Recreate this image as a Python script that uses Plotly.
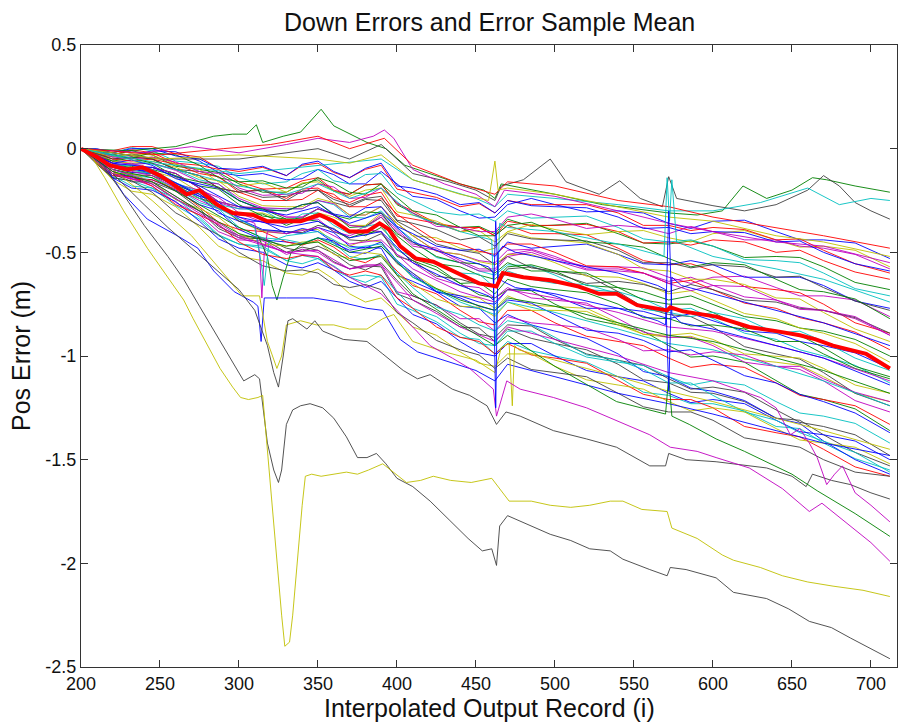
import plotly.graph_objects as go

# ---------------- data ----------------
GRID_X = [200, 210, 220, 232, 245, 260, 275, 287, 300, 315, 330, 340, 350, 360, 370, 380, 390, 400, 410, 425,
          440, 452, 462, 470, 485, 500, 520, 540, 556, 572, 586, 600, 620, 640, 655, 670, 690, 712]

BUNDLE = [
    [0, 0.0, -0.02, -0.035, -0.01, -0.015, -0.06, -0.115, -0.13, -0.12, -0.15, -0.145, -0.10, -0.125, -0.17, -0.17, -0.11, -0.17, -0.23, -0.245, -0.30, -0.335, -0.33, -0.27, -0.24, -0.27, -0.305, -0.30, -0.31, -0.36, -0.385, -0.35, -0.345, -0.40, -0.44, -0.44, -0.455, -0.53],
    [0, -0.025, -0.03, -0.01, -0.03, -0.085, -0.10, -0.115, -0.17, -0.21, -0.21, -0.17, -0.15, -0.205, -0.22, -0.175, -0.17, -0.27, -0.31, -0.365, -0.38, -0.375, -0.41, -0.34, -0.375, -0.37, -0.36, -0.41, -0.455, -0.46, -0.445, -0.47, -0.525, -0.52, -0.525, -0.57, -0.645, -0.68],
    [0, -0.025, -0.05, -0.04, -0.05, -0.10, -0.13, -0.19, -0.21, -0.195, -0.24, -0.195, -0.19, -0.235, -0.26, -0.225, -0.21, -0.325, -0.34, -0.36, -0.40, -0.38, -0.42, -0.35, -0.37, -0.37, -0.365, -0.40, -0.455, -0.45, -0.465, -0.44, -0.45, -0.50, -0.49, -0.54, -0.595, -0.63],
    [0, -0.025, -0.06, -0.075, -0.07, -0.10, -0.15, -0.17, -0.25, -0.29, -0.29, -0.29, -0.25, -0.27, -0.33, -0.335, -0.30, -0.38, -0.44, -0.525, -0.55, -0.59, -0.61, -0.56, -0.565, -0.61, -0.68, -0.69, -0.725, -0.78, -0.77, -0.82, -0.89, -0.92, -0.97, -1.00, -1.045, -1.13],
    [0, -0.035, -0.08, -0.105, -0.09, -0.12, -0.19, -0.26, -0.29, -0.29, -0.33, -0.33, -0.29, -0.32, -0.37, -0.375, -0.32, -0.39, -0.46, -0.48, -0.54, -0.58, -0.58, -0.51, -0.49, -0.53, -0.57, -0.57, -0.575, -0.62, -0.65, -0.62, -0.615, -0.67, -0.71, -0.71, -0.73, -0.81],
    [0, -0.05, -0.09, -0.09, -0.13, -0.205, -0.24, -0.275, -0.35, -0.40, -0.41, -0.39, -0.39, -0.45, -0.47, -0.44, -0.45, -0.555, -0.60, -0.675, -0.71, -0.72, -0.77, -0.71, -0.755, -0.76, -0.77, -0.84, -0.895, -0.91, -0.905, -0.94, -1.015, -1.03, -1.045, -1.10, -1.18, -1.22],
    [0, -0.06, -0.12, -0.135, -0.17, -0.245, -0.30, -0.385, -0.43, -0.435, -0.50, -0.475, -0.49, -0.545, -0.58, -0.565, -0.57, -0.70, -0.73, -0.785, -0.86, -0.865, -0.93, -0.87, -0.915, -0.94, -0.97, -1.04, -1.115, -1.13, -1.175, -1.18, -1.22, -1.30, -1.31, -1.38, -1.465, -1.53],
    [0, -0.05, -0.11, -0.14, -0.15, -0.20, -0.27, -0.30, -0.39, -0.44, -0.45, -0.46, -0.43, -0.445, -0.50, -0.505, -0.47, -0.55, -0.61, -0.69, -0.71, -0.74, -0.75, -0.68, -0.675, -0.71, -0.77, -0.77, -0.785, -0.82, -0.795, -0.83, -0.88, -0.89, -0.93, -0.95, -0.985, -1.06],
    [0, -0.03, -0.07, -0.10, -0.09, -0.12, -0.19, -0.255, -0.28, -0.29, -0.34, -0.345, -0.31, -0.345, -0.40, -0.42, -0.38, -0.46, -0.53, -0.57, -0.65, -0.705, -0.72, -0.68, -0.685, -0.75, -0.82, -0.85, -0.88, -0.95, -1.005, -1.00, -1.03, -1.12, -1.185, -1.21, -1.255, -1.36],
    [0, -0.02, -0.03, -0.005, -0.02, -0.07, -0.08, -0.10, -0.16, -0.195, -0.19, -0.155, -0.14, -0.20, -0.22, -0.175, -0.17, -0.265, -0.30, -0.36, -0.38, -0.38, -0.42, -0.37, -0.41, -0.41, -0.415, -0.48, -0.54, -0.56, -0.555, -0.59, -0.665, -0.68, -0.695, -0.75, -0.84, -0.89],
    [0, -0.07, -0.14, -0.155, -0.19, -0.275, -0.34, -0.42, -0.46, -0.47, -0.54, -0.515, -0.53, -0.585, -0.62, -0.61, -0.62, -0.75, -0.78, -0.835, -0.91, -0.92, -0.99, -0.93, -0.975, -1.00, -1.03, -1.10, -1.175, -1.19, -1.23, -1.23, -1.265, -1.34, -1.35, -1.42, -1.495, -1.55],
    [0, -0.025, -0.06, -0.075, -0.07, -0.105, -0.16, -0.17, -0.24, -0.285, -0.29, -0.29, -0.25, -0.265, -0.32, -0.32, -0.28, -0.36, -0.42, -0.495, -0.51, -0.54, -0.55, -0.49, -0.485, -0.52, -0.58, -0.58, -0.60, -0.64, -0.62, -0.66, -0.715, -0.73, -0.765, -0.78, -0.82, -0.90],
    [0, -0.035, -0.08, -0.115, -0.11, -0.14, -0.21, -0.28, -0.31, -0.31, -0.35, -0.35, -0.31, -0.33, -0.37, -0.37, -0.31, -0.36, -0.42, -0.43, -0.48, -0.50, -0.48, -0.40, -0.365, -0.39, -0.415, -0.40, -0.395, -0.43, -0.45, -0.41, -0.395, -0.44, -0.475, -0.47, -0.49, -0.57],
    [0, -0.025, -0.04, -0.025, -0.05, -0.10, -0.11, -0.135, -0.20, -0.235, -0.23, -0.205, -0.20, -0.26, -0.28, -0.245, -0.25, -0.35, -0.39, -0.46, -0.49, -0.505, -0.56, -0.52, -0.575, -0.59, -0.61, -0.69, -0.765, -0.80, -0.81, -0.86, -0.955, -0.99, -1.015, -1.08, -1.18, -1.24],
    [0, -0.045, -0.09, -0.095, -0.12, -0.185, -0.23, -0.31, -0.35, -0.35, -0.41, -0.385, -0.40, -0.455, -0.49, -0.475, -0.48, -0.61, -0.64, -0.69, -0.76, -0.77, -0.84, -0.80, -0.85, -0.88, -0.915, -0.99, -1.075, -1.10, -1.155, -1.17, -1.215, -1.30, -1.325, -1.41, -1.50, -1.57],
    [0, -0.03, -0.07, -0.095, -0.10, -0.13, -0.18, -0.195, -0.27, -0.325, -0.34, -0.335, -0.29, -0.315, -0.38, -0.375, -0.33, -0.42, -0.48, -0.555, -0.57, -0.61, -0.63, -0.57, -0.56, -0.59, -0.66, -0.67, -0.69, -0.73, -0.71, -0.75, -0.81, -0.83, -0.865, -0.88, -0.92, -1.00],
    [0, -0.05, -0.11, -0.15, -0.15, -0.195, -0.28, -0.355, -0.39, -0.40, -0.45, -0.465, -0.44, -0.475, -0.53, -0.55, -0.51, -0.59, -0.66, -0.70, -0.78, -0.835, -0.85, -0.78, -0.78, -0.84, -0.905, -0.93, -0.95, -1.01, -1.055, -1.04, -1.055, -1.13, -1.19, -1.21, -1.24, -1.33],
    [0, -0.015, -0.02, 0.005, -0.01, -0.06, -0.07, -0.085, -0.14, -0.17, -0.16, -0.12, -0.10, -0.155, -0.17, -0.125, -0.12, -0.215, -0.25, -0.305, -0.32, -0.315, -0.35, -0.30, -0.335, -0.33, -0.325, -0.38, -0.435, -0.45, -0.44, -0.47, -0.535, -0.54, -0.55, -0.60, -0.675, -0.71],
    [0, -0.065, -0.13, -0.145, -0.18, -0.26, -0.32, -0.40, -0.44, -0.445, -0.51, -0.485, -0.50, -0.55, -0.58, -0.56, -0.56, -0.69, -0.71, -0.755, -0.82, -0.82, -0.88, -0.81, -0.84, -0.85, -0.865, -0.92, -0.975, -0.97, -0.995, -0.98, -0.995, -1.05, -1.05, -1.11, -1.175, -1.22],
    [0, -0.025, -0.06, -0.07, -0.06, -0.09, -0.14, -0.155, -0.23, -0.275, -0.28, -0.28, -0.24, -0.26, -0.32, -0.32, -0.28, -0.36, -0.42, -0.495, -0.51, -0.545, -0.56, -0.51, -0.51, -0.55, -0.615, -0.62, -0.65, -0.70, -0.685, -0.73, -0.795, -0.82, -0.865, -0.89, -0.94, -1.03],
    [0, -0.055, -0.12, -0.16, -0.16, -0.205, -0.29, -0.375, -0.42, -0.43, -0.48, -0.495, -0.47, -0.505, -0.56, -0.585, -0.55, -0.635, -0.71, -0.755, -0.84, -0.895, -0.91, -0.85, -0.855, -0.92, -0.99, -1.02, -1.045, -1.11, -1.16, -1.15, -1.175, -1.26, -1.32, -1.34, -1.38, -1.48],
    [0, -0.04, -0.07, -0.055, -0.08, -0.145, -0.17, -0.19, -0.25, -0.295, -0.30, -0.27, -0.26, -0.315, -0.33, -0.285, -0.28, -0.375, -0.41, -0.47, -0.49, -0.485, -0.52, -0.45, -0.48, -0.47, -0.46, -0.51, -0.555, -0.56, -0.54, -0.56, -0.62, -0.62, -0.62, -0.66, -0.735, -0.77],
    [0, -0.04, -0.08, -0.085, -0.11, -0.175, -0.22, -0.29, -0.32, -0.315, -0.37, -0.34, -0.35, -0.40, -0.43, -0.405, -0.40, -0.52, -0.54, -0.585, -0.65, -0.645, -0.70, -0.63, -0.665, -0.68, -0.695, -0.75, -0.815, -0.82, -0.855, -0.85, -0.87, -0.93, -0.93, -0.99, -1.06, -1.11],
    [0, -0.02, -0.05, -0.06, -0.05, -0.075, -0.12, -0.135, -0.21, -0.25, -0.25, -0.245, -0.20, -0.22, -0.28, -0.28, -0.24, -0.315, -0.37, -0.445, -0.46, -0.495, -0.51, -0.46, -0.46, -0.50, -0.565, -0.57, -0.60, -0.65, -0.635, -0.68, -0.745, -0.77, -0.815, -0.84, -0.885, -0.97],
    [0, -0.06, -0.13, -0.18, -0.19, -0.24, -0.33, -0.415, -0.46, -0.48, -0.54, -0.555, -0.53, -0.565, -0.62, -0.645, -0.61, -0.69, -0.77, -0.81, -0.89, -0.94, -0.95, -0.88, -0.88, -0.94, -1.005, -1.03, -1.045, -1.10, -1.14, -1.12, -1.14, -1.22, -1.275, -1.29, -1.325, -1.42],
    [0, -0.045, -0.08, -0.07, -0.10, -0.17, -0.20, -0.235, -0.31, -0.355, -0.36, -0.34, -0.34, -0.40, -0.42, -0.39, -0.40, -0.51, -0.55, -0.625, -0.66, -0.67, -0.72, -0.67, -0.72, -0.73, -0.745, -0.82, -0.885, -0.91, -0.91, -0.95, -1.03, -1.05, -1.065, -1.12, -1.215, -1.27],
    [0, -0.02, -0.04, -0.025, -0.03, -0.075, -0.10, -0.16, -0.18, -0.165, -0.21, -0.165, -0.16, -0.205, -0.23, -0.20, -0.19, -0.305, -0.32, -0.35, -0.40, -0.395, -0.45, -0.40, -0.43, -0.44, -0.455, -0.51, -0.58, -0.59, -0.63, -0.63, -0.655, -0.72, -0.725, -0.79, -0.87, -0.93],
    [0, -0.045, -0.10, -0.125, -0.13, -0.175, -0.24, -0.265, -0.35, -0.395, -0.40, -0.405, -0.37, -0.385, -0.44, -0.445, -0.41, -0.485, -0.54, -0.615, -0.63, -0.655, -0.66, -0.58, -0.57, -0.60, -0.65, -0.64, -0.655, -0.69, -0.655, -0.68, -0.73, -0.74, -0.77, -0.78, -0.815, -0.89],
    [0, -0.065, -0.14, -0.19, -0.20, -0.255, -0.35, -0.435, -0.48, -0.50, -0.56, -0.575, -0.55, -0.585, -0.64, -0.67, -0.64, -0.72, -0.80, -0.845, -0.93, -0.985, -1.00, -0.94, -0.94, -1.00, -1.07, -1.10, -1.12, -1.18, -1.225, -1.21, -1.23, -1.31, -1.365, -1.38, -1.41, -1.50],
    [0, -0.035, -0.06, -0.045, -0.07, -0.135, -0.16, -0.185, -0.25, -0.295, -0.30, -0.27, -0.26, -0.32, -0.34, -0.305, -0.31, -0.41, -0.45, -0.52, -0.55, -0.555, -0.60, -0.55, -0.59, -0.59, -0.60, -0.67, -0.73, -0.75, -0.75, -0.79, -0.865, -0.88, -0.90, -0.96, -1.05, -1.10],
    [0, -0.005, -0.01, 0.01, 0.01, -0.025, -0.04, -0.095, -0.11, -0.09, -0.13, -0.08, -0.07, -0.115, -0.14, -0.10, -0.08, -0.195, -0.21, -0.235, -0.28, -0.265, -0.31, -0.25, -0.27, -0.27, -0.27, -0.31, -0.37, -0.37, -0.395, -0.38, -0.39, -0.44, -0.435, -0.49, -0.555, -0.60],
    [0, -0.045, -0.10, -0.13, -0.14, -0.19, -0.26, -0.29, -0.38, -0.43, -0.44, -0.455, -0.43, -0.455, -0.52, -0.535, -0.51, -0.60, -0.67, -0.765, -0.80, -0.85, -0.88, -0.83, -0.85, -0.91, -0.995, -1.02, -1.065, -1.13, -1.13, -1.19, -1.27, -1.31, -1.37, -1.41, -1.465, -1.56],
    [0, -0.03, -0.07, -0.10, -0.09, -0.12, -0.19, -0.255, -0.28, -0.285, -0.33, -0.33, -0.29, -0.32, -0.37, -0.38, -0.33, -0.40, -0.47, -0.49, -0.55, -0.59, -0.59, -0.52, -0.50, -0.54, -0.585, -0.59, -0.60, -0.65, -0.685, -0.66, -0.665, -0.73, -0.775, -0.78, -0.81, -0.90],
    [0, -0.065, -0.12, -0.12, -0.16, -0.245, -0.29, -0.33, -0.41, -0.46, -0.47, -0.45, -0.45, -0.51, -0.53, -0.50, -0.51, -0.61, -0.65, -0.725, -0.76, -0.765, -0.81, -0.74, -0.78, -0.78, -0.785, -0.85, -0.895, -0.90, -0.89, -0.92, -0.99, -1.00, -1.01, -1.06, -1.14, -1.18],
    [0, -0.025, -0.05, -0.04, -0.05, -0.10, -0.13, -0.19, -0.21, -0.20, -0.25, -0.205, -0.20, -0.245, -0.27, -0.24, -0.23, -0.345, -0.36, -0.39, -0.44, -0.425, -0.47, -0.41, -0.435, -0.44, -0.445, -0.49, -0.55, -0.55, -0.575, -0.56, -0.57, -0.62, -0.615, -0.67, -0.735, -0.78],
    [0, -0.035, -0.09, -0.115, -0.12, -0.165, -0.23, -0.255, -0.34, -0.39, -0.40, -0.41, -0.38, -0.405, -0.47, -0.48, -0.45, -0.54, -0.60, -0.69, -0.72, -0.76, -0.78, -0.73, -0.745, -0.80, -0.875, -0.89, -0.925, -0.98, -0.97, -1.02, -1.095, -1.13, -1.185, -1.22, -1.275, -1.37],
    [0, -0.01, -0.03, -0.045, -0.02, -0.03, -0.08, -0.14, -0.16, -0.155, -0.19, -0.185, -0.14, -0.165, -0.21, -0.22, -0.17, -0.235, -0.30, -0.32, -0.38, -0.42, -0.42, -0.37, -0.355, -0.40, -0.45, -0.46, -0.475, -0.53, -0.57, -0.55, -0.56, -0.63, -0.68, -0.69, -0.725, -0.82],
    [0, -0.07, -0.13, -0.135, -0.18, -0.27, -0.32, -0.365, -0.45, -0.51, -0.53, -0.515, -0.52, -0.585, -0.61, -0.59, -0.61, -0.72, -0.77, -0.86, -0.91, -0.93, -0.99, -0.94, -0.995, -1.01, -1.035, -1.12, -1.185, -1.21, -1.21, -1.25, -1.34, -1.37, -1.39, -1.45, -1.535, -1.58],
    [0, -0.04, -0.08, -0.08, -0.10, -0.165, -0.21, -0.27, -0.29, -0.295, -0.36, -0.315, -0.31, -0.37, -0.41, -0.375, -0.36, -0.49, -0.52, -0.55, -0.60, -0.605, -0.67, -0.59, -0.63, -0.65, -0.655, -0.70, -0.775, -0.79, -0.81, -0.79, -0.82, -0.89, -0.88, -0.93, -1.01, -1.07],
    [0, -0.01, -0.04, -0.05, -0.04, -0.065, -0.11, -0.12, -0.19, -0.225, -0.22, -0.215, -0.17, -0.185, -0.24, -0.235, -0.19, -0.26, -0.31, -0.375, -0.38, -0.40, -0.40, -0.33, -0.315, -0.34, -0.385, -0.37, -0.38, -0.41, -0.375, -0.40, -0.44, -0.44, -0.47, -0.48, -0.51, -0.58],
    [0, -0.07, -0.15, -0.205, -0.22, -0.28, -0.38, -0.47, -0.52, -0.54, -0.60, -0.61, -0.58, -0.63, -0.70, -0.74, -0.72, -0.79, -0.86, -0.90, -0.98, -1.035, -1.05, -0.99, -0.99, -1.05, -1.115, -1.14, -1.16, -1.22, -1.265, -1.25, -1.27, -1.35, -1.405, -1.42, -1.44, -1.52],
    [0, -0.075, -0.14, -0.155, -0.21, -0.31, -0.37, -0.415, -0.50, -0.565, -0.59, -0.585, -0.60, -0.655, -0.67, -0.655, -0.68, -0.79, -0.84, -0.925, -0.97, -0.995, -1.06, -1.01, -1.065, -1.08, -1.10, -1.18, -1.245, -1.27, -1.27, -1.31, -1.395, -1.42, -1.44, -1.50, -1.56, -1.58],
    [0, -0.01, -0.02, 0.0, 0.00, -0.035, -0.05, -0.095, -0.10, -0.085, -0.13, -0.075, -0.06, -0.11, -0.14, -0.095, -0.07, -0.18, -0.19, -0.22, -0.27, -0.26, -0.31, -0.25, -0.275, -0.28, -0.285, -0.33, -0.385, -0.38, -0.41, -0.40, -0.405, -0.45, -0.445, -0.50, -0.555, -0.59],
]

# individual runs with distinctive features
TOP_GREEN_X = [200, 230, 260, 284, 296, 305, 311, 315, 328, 339, 352, 360, 381, 393, 405, 420, 440, 455, 462, 466, 480, 500, 530, 560, 572, 590, 606, 619, 634, 650, 663, 672, 690, 712]
TOP_GREEN_Y = [0, -0.01, 0.01, 0.06, 0.07, 0.07, 0.115, 0.03, 0.06, 0.08, 0.19, 0.11, 0.03, 0.0, -0.08, -0.12, -0.17, -0.20, -0.24, -0.17, -0.19, -0.22, -0.27, -0.30, -0.31, -0.32, -0.30, -0.18, -0.24, -0.20, -0.14, -0.15, -0.18, -0.21]

TOP_GRAY_X = [200, 250, 300, 350, 370, 390, 410, 433, 450, 462, 466, 480, 497, 507, 528, 541, 554, 568, 572, 577, 600, 620, 640, 660, 670, 680, 690, 700, 712]
TOP_GRAY_Y = [0, -0.05, -0.05, 0.0, -0.05, 0.02, -0.12, -0.16, -0.20, -0.25, -0.18, -0.15, -0.05, -0.16, -0.22, -0.155, -0.24, -0.28, -0.135, -0.24, -0.275, -0.30, -0.27, -0.20, -0.13, -0.18, -0.26, -0.30, -0.34]

TOP_CYAN_X = [200, 250, 300, 350, 390, 410, 450, 462, 470, 500, 540, 572, 600, 630, 660, 680, 700, 712]
TOP_CYAN_Y = [0, -0.07, -0.12, -0.08, -0.05, -0.15, -0.24, -0.28, -0.22, -0.24, -0.27, -0.30, -0.30, -0.26, -0.19, -0.27, -0.24, -0.25]

TOP_MAG_X = [200, 240, 270, 300, 330, 350, 370, 385, 392, 398, 410, 430, 450, 462, 468, 500, 540, 572, 600, 640, 670, 712]
TOP_MAG_Y = [0, -0.02, 0.01, -0.02, 0.02, 0.05, 0.03, 0.06, 0.09, 0.05, -0.10, -0.17, -0.22, -0.28, -0.20, -0.23, -0.30, -0.36, -0.40, -0.45, -0.47, -0.55]

TOP_RED_X = [200, 250, 290, 320, 350, 370, 392, 410, 440, 462, 470, 500, 540, 572, 600, 640, 670, 712]
TOP_RED_Y = [0, -0.03, 0.0, 0.02, 0.06, 0.0, 0.05, -0.08, -0.17, -0.22, -0.16, -0.18, -0.25, -0.28, -0.33, -0.38, -0.42, -0.48]

TOP_YEL_X = [200, 250, 300, 350, 370, 390, 410, 440, 458, 462, 464, 470, 500, 540, 572, 600, 640, 670, 712]
TOP_YEL_Y = [0, -0.05, -0.03, -0.05, -0.07, -0.03, -0.15, -0.22, -0.25, -0.06, -0.20, -0.19, -0.22, -0.28, -0.33, -0.35, -0.42, -0.45, -0.52]

SPK_A_X = [200, 220, 245, 275, 300, 330, 350, 370, 390, 410, 440, 458, 461, 462.5, 464, 467, 475, 500, 540, 565, 570, 572, 574, 580, 600, 640, 670, 712]
SPK_A_Y = [0, -0.07, -0.09, -0.18, -0.28, -0.32, -0.28, -0.36, -0.31, -0.45, -0.53, -0.57, -0.60, -1.25, -0.50, -0.47, -0.50, -0.54, -0.60, -0.66, -0.68, -1.17, -0.62, -0.66, -0.70, -0.78, -0.84, -0.95]

SPK_B_X = [200, 220, 245, 275, 300, 330, 350, 370, 390, 410, 440, 458, 461, 462.5, 464, 467, 475, 500, 540, 565, 570, 572, 574, 580, 600, 640, 670, 712]
SPK_B_Y = [0, -0.09, -0.11, -0.22, -0.33, -0.38, -0.35, -0.43, -0.40, -0.55, -0.66, -0.71, -0.73, -0.35, -0.62, -0.64, -0.67, -0.70, -0.77, -0.83, -0.85, -0.30, -0.80, -0.84, -0.87, -0.95, -1.01, -1.14]

SPK_C_X = [200, 230, 260, 300, 330, 350, 370, 390, 410, 440, 460, 462.5, 465, 470, 500, 540, 560, 569, 571, 572.5, 574, 577, 600, 640, 670, 712]
SPK_C_Y = [0, -0.05, -0.10, -0.18, -0.22, -0.17, -0.24, -0.19, -0.32, -0.40, -0.44, -0.95, -0.36, -0.38, -0.40, -0.46, -0.50, -0.52, -0.14, -0.35, -0.15, -0.45, -0.52, -0.58, -0.63, -0.74]

SPK_D_X = [200, 220, 245, 275, 300, 310, 313, 314.5, 316, 318, 330, 350, 370, 390, 410, 440, 462, 470, 500, 540, 572, 600, 640, 670, 712]
SPK_D_Y = [0, -0.09, -0.13, -0.25, -0.33, -0.36, -0.50, -0.72, -0.50, -0.40, -0.41, -0.38, -0.46, -0.44, -0.58, -0.69, -0.74, -0.68, -0.72, -0.79, -0.86, -0.88, -0.95, -1.01, -1.12]

SPK_E_X = [200, 220, 245, 275, 300, 312, 318, 321, 324, 328, 333, 340, 350, 370, 390, 410, 440, 462, 470, 500, 540, 572, 600, 640, 670, 712]
SPK_E_Y = [0, -0.10, -0.14, -0.27, -0.38, -0.42, -0.52, -0.66, -0.73, -0.62, -0.50, -0.46, -0.43, -0.50, -0.47, -0.62, -0.73, -0.78, -0.72, -0.76, -0.84, -0.90, -0.93, -1.01, -1.07, -1.18]

SPK_F_X = [200, 220, 245, 275, 300, 310, 314, 316, 319, 330, 350, 370, 390, 410, 440, 462, 470, 500, 540, 572, 600, 640, 670, 712]
SPK_F_Y = [0, -0.09, -0.12, -0.24, -0.34, -0.38, -0.55, -0.66, -0.45, -0.42, -0.40, -0.48, -0.46, -0.62, -0.74, -0.80, -0.74, -0.79, -0.87, -0.94, -0.97, -1.05, -1.12, -1.24]

NAVY_X = [200, 215, 227, 242, 261, 274, 284, 297, 309, 312, 314, 316, 330, 347, 364, 381, 391, 402, 413, 430, 450, 462, 470, 500, 540, 572, 600, 640, 670, 712]
NAVY_Y = [0, -0.08, -0.22, -0.34, -0.42, -0.48, -0.59, -0.69, -0.74, -0.76, -0.93, -0.72, -0.72, -0.72, -0.74, -0.77, -0.78, -0.92, -0.98, -1.02, -1.07, -1.12, -1.04, -1.10, -1.18, -1.23, -1.28, -1.36, -1.42, -1.48]

YEL2_X = [200, 220, 245, 270, 290, 302, 313, 318, 324, 327, 330, 339, 349, 360, 370, 381, 391, 398, 410, 430, 450, 462, 466, 471, 473, 474.5, 477, 500, 540, 572, 600, 640, 670, 712]
YEL2_Y = [0, -0.10, -0.25, -0.42, -0.60, -0.71, -0.71, -0.93, -1.06, -1.00, -0.85, -0.83, -0.85, -0.85, -0.87, -0.87, -0.82, -0.80, -0.93, -0.98, -1.02, -1.08, -0.96, -0.94, -1.24, -0.95, -0.97, -1.02, -1.10, -1.17, -1.22, -1.30, -1.36, -1.45]

GRAY_A_X = [200, 220, 240, 255, 270, 285, 300, 310, 315, 318, 322, 325, 328, 331, 334, 343, 348, 353, 366, 381, 391, 404, 413, 421, 435, 446, 457, 463, 469, 478, 499, 520, 539, 560, 570, 572, 583, 602, 634, 650, 659, 663, 675, 687, 700, 712]
GRAY_A_Y = [0, -0.12, -0.27, -0.38, -0.48, -0.58, -0.68, -0.78, -0.88, -0.95, -1.08, -1.15, -1.00, -0.83, -0.82, -0.87, -0.83, -0.88, -0.92, -0.93, -0.99, -1.07, -1.11, -1.09, -1.16, -1.19, -1.24, -1.33, -1.27, -1.29, -1.36, -1.40, -1.44, -1.53, -1.53, -1.47, -1.50, -1.51, -1.54, -1.58, -1.63, -1.57, -1.60, -1.62, -1.66, -1.69]

GRAY_B_X = [200, 210, 225, 240, 255, 265, 275, 288, 303, 310, 313, 318, 322, 325, 327, 330, 334, 339, 345, 353, 360, 368, 375, 381, 387, 393, 400, 410, 421, 433, 445, 454, 460, 463, 465, 470, 485, 497, 510, 522, 535, 543, 560, 571, 573, 583, 602, 613, 634, 648, 661, 675, 687, 700, 712]
GRAY_B_Y = [0, -0.04, -0.20, -0.37, -0.52, -0.63, -0.76, -0.93, -1.12, -1.09, -1.11, -1.42, -1.55, -1.61, -1.55, -1.33, -1.26, -1.24, -1.23, -1.25, -1.30, -1.39, -1.49, -1.49, -1.47, -1.52, -1.59, -1.63, -1.70, -1.79, -1.88, -1.94, -1.93, -2.01, -1.82, -1.77, -1.82, -1.86, -1.89, -1.93, -1.94, -1.98, -2.03, -2.06, -2.02, -2.03, -2.07, -2.14, -2.17, -2.22, -2.28, -2.31, -2.36, -2.41, -2.46]

YEL_BIG_X = [200, 206, 215, 227, 242, 257, 265, 271, 278, 288, 296, 301, 306, 312, 315, 318, 321, 324, 327, 329, 332, 334, 337, 340, 342, 346, 352, 360, 368, 375, 382, 391, 398, 406, 415, 423, 434, 447, 460, 465, 471, 485, 497, 510, 522, 535, 543, 555, 571, 574, 590, 606, 613, 630, 644, 660, 676, 695, 712]
YEL_BIG_Y = [0, -0.03, -0.14, -0.30, -0.48, -0.64, -0.73, -0.82, -0.92, -1.06, -1.15, -1.20, -1.21, -1.20, -1.19, -1.45, -1.75, -1.98, -2.25, -2.40, -2.38, -2.25, -1.98, -1.72, -1.58, -1.57, -1.58, -1.57, -1.56, -1.57, -1.55, -1.52, -1.56, -1.61, -1.60, -1.58, -1.60, -1.61, -1.59, -1.64, -1.70, -1.70, -1.72, -1.73, -1.72, -1.70, -1.70, -1.74, -1.75, -1.83, -1.88, -1.96, -1.985, -2.02, -2.06, -2.09, -2.11, -2.13, -2.16]

MAG_LOW_X = [200, 220, 245, 275, 300, 330, 350, 370, 390, 410, 421, 435, 446, 455, 461, 463, 469.5, 478, 499, 520, 541, 560, 573, 590, 602, 623, 644, 661, 669, 687, 700, 712]
MAG_LOW_Y = [0, -0.10, -0.16, -0.30, -0.42, -0.50, -0.52, -0.62, -0.70, -0.86, -0.95, -1.01, -1.06, -1.12, -1.16, -1.29, -1.12, -1.16, -1.20, -1.25, -1.32, -1.38, -1.44, -1.46, -1.49, -1.54, -1.64, -1.75, -1.71, -1.82, -1.90, -1.99]

MAG2_X = [200, 220, 245, 275, 300, 330, 350, 370, 390, 410, 440, 462, 470, 500, 540, 572, 600, 630, 640, 649, 655, 661, 666, 672, 677, 682, 690, 700, 712]
MAG2_Y = [0, -0.12, -0.17, -0.31, -0.43, -0.50, -0.49, -0.58, -0.56, -0.73, -0.86, -0.93, -0.86, -0.92, -1.00, -1.08, -1.12, -1.20, -1.25, -1.38, -1.35, -1.42, -1.49, -1.62, -1.57, -1.53, -1.66, -1.72, -1.80]

GRN_LOW_X = [200, 220, 245, 275, 300, 330, 350, 370, 390, 410, 440, 462, 470, 500, 539, 560, 570, 572, 574, 585, 602, 620, 634, 650, 666, 690, 712]
GRN_LOW_Y = [0, -0.11, -0.16, -0.30, -0.41, -0.47, -0.45, -0.54, -0.52, -0.70, -0.85, -0.95, -0.90, -1.05, -1.22, -1.26, -1.28, -1.10, -1.29, -1.33, -1.40, -1.46, -1.51, -1.57, -1.65, -1.76, -1.87]

MEAN_X = [200, 210, 218, 229, 239, 250, 258, 267, 275, 286, 296, 309, 318, 328, 339, 351, 360, 370, 381, 389, 395, 402, 412, 423, 434, 452, 460, 463, 467, 480, 497, 515, 528, 539, 552, 565, 571, 573, 581, 602, 623, 640, 655, 665, 676, 697, 712]
MEAN_Y = [0, -0.04, -0.08, -0.10, -0.09, -0.13, -0.17, -0.22, -0.20, -0.27, -0.31, -0.32, -0.35, -0.35, -0.35, -0.32, -0.35, -0.40, -0.40, -0.36, -0.39, -0.47, -0.53, -0.545, -0.585, -0.65, -0.66, -0.665, -0.60, -0.62, -0.635, -0.665, -0.70, -0.70, -0.755, -0.77, -0.78, -0.765, -0.785, -0.81, -0.86, -0.88, -0.90, -0.92, -0.95, -0.99, -1.06]

X_TICKS = [200, 250, 300, 350, 400, 450, 500, 550, 600, 650, 700]
Y_TICKS = [0.5, 0, -0.5, -1, -1.5, -2, -2.5]
Y_TICK_TEXT = ["0.5", "0", "-0.5", "-1", "-1.5", "-2", "-2.5"]

# MATLAB classic colour order
COLORS = {
    "b": "rgb(0,0,255)",
    "g": "rgb(0,128,0)",
    "r": "rgb(255,0,0)",
    "c": "rgb(0,191,191)",
    "m": "rgb(191,0,191)",
    "y": "rgb(191,191,0)",
    "k": "rgb(64,64,64)",
}
ORDER = ["b", "g", "r", "c", "m", "y", "k"]

SPECIAL = [
    (TOP_GREEN_X, TOP_GREEN_Y, "g"),
    (TOP_GRAY_X, TOP_GRAY_Y, "k"),
    (TOP_CYAN_X, TOP_CYAN_Y, "c"),
    (TOP_MAG_X, TOP_MAG_Y, "m"),
    (TOP_RED_X, TOP_RED_Y, "r"),
    (TOP_YEL_X, TOP_YEL_Y, "y"),
    (SPK_D_X, SPK_D_Y, "m"),
    (SPK_E_X, SPK_E_Y, "g"),
    (SPK_F_X, SPK_F_Y, "c"),
    (NAVY_X, NAVY_Y, "b"),
    (YEL2_X, YEL2_Y, "y"),
    (GRAY_A_X, GRAY_A_Y, "k"),
    (GRAY_B_X, GRAY_B_Y, "k"),
    (YEL_BIG_X, YEL_BIG_Y, "y"),
    (MAG_LOW_X, MAG_LOW_Y, "m"),
    (MAG2_X, MAG2_Y, "m"),
    (GRN_LOW_X, GRN_LOW_Y, "g"),
    (SPK_C_X, SPK_C_Y, "c"),
    (SPK_A_X, SPK_A_Y, "b"),
    (SPK_B_X, SPK_B_Y, "b"),
]

fig = go.Figure()
for i, ys in enumerate(BUNDLE):
    n = min(len(ys), len(GRID_X))
    fig.add_trace(go.Scatter(x=GRID_X[:n], y=ys[:n], mode="lines",
                             line=dict(color=COLORS[ORDER[i % 7]], width=0.9),
                             hoverinfo="skip", showlegend=False))
for xs, ys, c in SPECIAL:
    n = min(len(xs), len(ys))
    fig.add_trace(go.Scatter(x=xs[:n], y=ys[:n], mode="lines",
                             line=dict(color=COLORS[c], width=0.9),
                             hoverinfo="skip", showlegend=False))
fig.add_trace(go.Scatter(x=MEAN_X, y=MEAN_Y, mode="lines",
                         line=dict(color="rgb(255,0,0)", width=4),
                         hoverinfo="skip", showlegend=False))

FONT = "Arial, 'Liberation Sans', Helvetica, sans-serif"
axis_common = dict(showgrid=False, zeroline=False, showline=True, linecolor="#333333",
                   linewidth=1, mirror="allticks", ticks="inside", ticklen=7,
                   tickcolor="#333333", tickfont=dict(family=FONT, size=18, color="#111111"))

fig.update_layout(
    width=899, height=723,
    margin=dict(l=81, r=2, t=45, b=56),
    paper_bgcolor="white", plot_bgcolor="white",
    xaxis=dict(range=[200, 716.5], tickvals=X_TICKS, **axis_common),
    yaxis=dict(range=[-2.5, 0.5], tickvals=Y_TICKS, ticktext=Y_TICK_TEXT, **axis_common),
    annotations=[
        dict(text="Down Errors and Error Sample Mean", xref="paper", yref="paper",
             x=0.5, y=1.037, xanchor="center", yanchor="middle", showarrow=False,
             font=dict(family=FONT, size=25, color="#111111")),
        dict(text="Interpolated Output Record (i)", xref="paper", yref="paper",
             x=0.5, y=-0.066, xanchor="center", yanchor="middle", showarrow=False,
             font=dict(family=FONT, size=25, color="#111111")),
        dict(text="Pos Error (m)", xref="paper", yref="paper",
             x=-0.0735, y=0.5, xanchor="center", yanchor="middle", showarrow=False,
             textangle=-90, font=dict(family=FONT, size=25, color="#111111")),
    ],
)

fig.write_html("out.html")
